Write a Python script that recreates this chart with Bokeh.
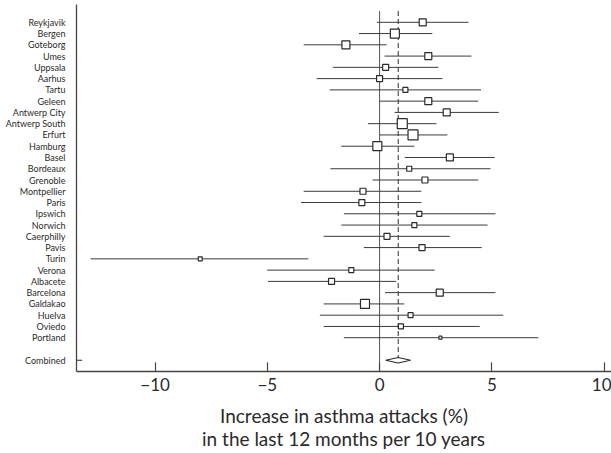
from bokeh.plotting import figure
from bokeh.models import FixedTicker, ColumnDataSource
from bokeh.embed import file_html
from bokeh.resources import INLINE

# ---- data ----
centres = ["Reykjavik", "Bergen", "Goteborg", "Umes", "Uppsala", "Aarhus", "Tartu",
           "Geleen", "Antwerp City", "Antwerp South", "Erfurt", "Hamburg", "Basel",
           "Bordeaux", "Grenoble", "Montpellier", "Paris", "Ipswich", "Norwich",
           "Caerphilly", "Pavis", "Turin", "Verona", "Albacete", "Barcelona",
           "Galdakao", "Huelva", "Oviedo", "Portland"]
estimate = [1.92, 0.68, -1.50, 2.17, 0.27, 0.00, 1.15, 2.17, 2.99, 1.01, 1.49, -0.10, 3.13,
            1.32, 2.02, -0.74, -0.79, 1.77, 1.55, 0.33, 1.89, -7.99, -1.26, -2.14, 2.68,
            -0.65, 1.38, 0.95, 2.71]
lower = [-0.12, -0.92, -3.38, 0.22, -2.08, -2.80, -2.22, 0.01, 0.67, -0.52, 0.01, -1.71, 1.12,
         -2.19, -0.31, -3.38, -3.50, -1.59, -1.70, -2.49, -0.70, -12.87, -5.01, -4.97, 0.24,
         -2.49, -2.66, -2.49, -1.59]
upper = [3.96, 2.35, 0.31, 4.09, 2.62, 2.80, 4.52, 4.39, 5.31, 2.53, 3.02, 1.55, 5.13,
         4.94, 4.40, 1.86, 1.86, 5.16, 4.81, 3.13, 4.55, -3.17, 2.46, 0.74, 5.16,
         1.10, 5.51, 4.46, 7.07]
weight = [7, 9, 8, 7, 6, 6, 5, 7, 7, 10, 10, 9, 7, 5, 6, 6, 6, 5, 5, 6, 6, 4, 5, 6, 7, 9, 5, 5, 3]

combined_label = "Combined"
combined_est = 0.83
combined_lo = 0.27
combined_hi = 1.38

x_ticks = [-10, -5, 0, 5, 10]
x_title = "Increase in asthma attacks (%)\nin the last 12 months per 10 years"

# ---- layout ----
n = len(centres)
ypos = [n - i for i in range(n)]          # Reykjavik at top
y_comb = -1
FONT = "Lato"
INK = "#2a2a2a"
X0, X1 = -13.5, 10.33
Y0, Y1 = -2.0, 30.58

p = figure(frame_width=535, frame_height=367,
           x_range=(X0, X1), y_range=(Y0, Y1),
           output_backend="svg", toolbar_location=None,
           min_border_left=76, min_border_right=0, min_border_top=4, min_border_bottom=0)
p.outline_line_color = None
p.xgrid.visible = False
p.ygrid.visible = False
p.background_fill_color = "white"
p.border_fill_color = "white"

# reference lines
p.segment(x0=[0], y0=[n + 1], x1=[0], y1=[Y0], line_color="#555555", line_width=1)
p.segment(x0=[combined_est], y0=[n + 1], x1=[combined_est], y1=[y_comb + 0.25],
          line_color=INK, line_width=1, line_dash="5 3")

# confidence intervals
src = ColumnDataSource(dict(y=ypos, est=estimate, lo=lower, hi=upper, size=weight))
p.segment(x0="lo", y0="y", x1="hi", y1="y", source=src, line_color="#3a3a3a", line_width=1)
p.scatter(x="est", y="y", size="size", marker="square", source=src,
          fill_color="white", line_color=INK, line_width=1.2)

# combined diamond
h = 0.25
p.patch(x=[combined_lo, combined_est, combined_hi, combined_est],
        y=[y_comb, y_comb + h, y_comb, y_comb - h],
        fill_color="white", line_color=INK, line_width=1.1)
# small tick at the combined row
p.segment(x0=[X0], y0=[y_comb], x1=[X0 + 0.25], y1=[y_comb], line_color=INK, line_width=1.2)

# axes
xa = p.xaxis[0]
xa.ticker = FixedTicker(ticks=x_ticks)
xa.major_label_overrides = {t: (("\u2212" + str(-t)) if t < 0 else str(t)) for t in x_ticks}
xa.major_tick_in = 9
xa.major_tick_out = 0
xa.minor_tick_line_color = None
xa.axis_line_color = "#444444"
xa.axis_line_width = 1.3
xa.major_tick_line_color = "#444444"
xa.major_tick_line_width = 1.2
xa.major_label_text_font = FONT
xa.major_label_text_font_size = "17px"
xa.major_label_text_color = INK
xa.major_label_standoff = 6
xa.axis_label = x_title
xa.axis_label_text_font = FONT
xa.axis_label_text_font_size = "19px"
xa.axis_label_text_font_style = "normal"
xa.axis_label_text_color = INK
xa.axis_label_text_line_height = 1.0
xa.axis_label_standoff = 10

ya = p.yaxis[0]
ya.ticker = FixedTicker(ticks=ypos + [y_comb])
labels = {y: c for y, c in zip(ypos, centres)}
labels[y_comb] = combined_label
ya.major_label_overrides = labels
ya.major_tick_line_color = None
ya.minor_tick_line_color = None
ya.axis_line_color = "#444444"
ya.axis_line_width = 1.3
ya.major_label_text_font = FONT
ya.major_label_text_font_size = "9px"
ya.major_label_text_color = INK
ya.major_label_standoff = 5

open("out.html", "w").write(file_html(p, INLINE))
